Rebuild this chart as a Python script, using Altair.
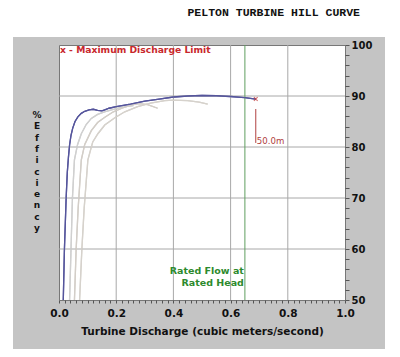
import altair as alt
import pandas as pd

# ---------------- data ----------------
blue_q = [0.015, 0.019, 0.025, 0.029, 0.033, 0.037, 0.042, 0.048, 0.056, 0.066, 0.078, 0.09,
          0.105, 0.12, 0.135, 0.15, 0.16, 0.175, 0.2, 0.25, 0.3, 0.35, 0.4, 0.45, 0.5, 0.55,
          0.6, 0.65, 0.688]
blue_eff = [50, 60, 70, 75, 78, 80.4, 82.3, 83.7, 85.0, 85.9, 86.6, 87.0, 87.3, 87.4, 87.2,
            87.1, 87.3, 87.6, 87.9, 88.4, 89.0, 89.4, 89.8, 90.0, 90.1, 90.05, 89.9, 89.7, 89.4]

grey1_q = [0.037, 0.042, 0.047, 0.054, 0.065, 0.078, 0.095, 0.113, 0.135, 0.159, 0.19, 0.22, 0.26]
grey1_eff = [50, 60, 70, 77.5, 80.5, 82.6, 84.4, 85.6, 86.4, 86.9, 87.4, 87.8, 88.1]

grey2_q = [0.054, 0.06, 0.067, 0.078, 0.09, 0.113, 0.135, 0.159, 0.19, 0.22, 0.25, 0.28, 0.31, 0.345]
grey2_eff = [50, 60, 68, 77.5, 80.5, 83.2, 84.8, 85.8, 86.9, 87.6, 88.2, 88.5, 88.3, 87.6]

grey3_q = [0.072, 0.08, 0.088, 0.101, 0.118, 0.136, 0.16, 0.194, 0.23, 0.275, 0.32, 0.37, 0.4,
           0.45, 0.49, 0.52]
grey3_eff = [50, 60, 68, 77.5, 81.0, 82.6, 84.3, 85.7, 86.9, 87.9, 88.6, 89.1, 89.2, 89.1, 88.8, 88.4]

x_grid = [0.2, 0.4, 0.6, 0.8]
y_grid = [60, 70, 80, 90]
x_ticks = [round(i * 0.02, 2) for i in range(51)]
y_ticks = list(range(50, 101, 2))

rated_flow = 0.65
max_q = 0.688
max_eff = 89.4
head_label = "50.0m"
head_line_top = 87.45
head_line_bottom = 80.8

title_text = "PELTON TURBINE HILL CURVE"
legend_label = "x - Maximum Discharge Limit"
rated_label = "Rated Flow at\nRated Head"
y_title = "% Efficiency"
x_title = "Turbine Discharge (cubic meters/second)"

# ---------------- frames ----------------
rows = []
for name, qs, es in [("grey1", grey1_q, grey1_eff), ("grey2", grey2_q, grey2_eff),
                     ("grey3", grey3_q, grey3_eff), ("blue", blue_q, blue_eff)]:
    for i, (q, e) in enumerate(zip(qs, es)):
        rows.append({"curve": name, "q": q, "eff": e, "i": i})
curves = pd.DataFrame(rows)

W, H = 286, 255
FONT = "DejaVu Sans"
PANEL = "#c4c4c4"

xs = alt.Scale(domain=[0, 1], nice=False, zero=False)
ys = alt.Scale(domain=[50, 100], nice=False, zero=False)

is_major_x = "abs(datum.value*5 - round(datum.value*5)) < 0.001"
is_major_y = "datum.value % 10 == 0"

x_axis = alt.Axis(
    values=x_ticks, format=".1f",
    labelExpr=f"{is_major_x} ? datum.label : ''",
    labelOverlap=False, labelFlush=False,
    labelFont=FONT, labelFontSize=10.5, labelFontWeight="bold", labelColor="#111",
    labelPadding=5,
    tickSize=3, tickColor="#555", tickWidth=1,
    grid=False, domain=False,
    title=x_title,
    titleFont=FONT, titleFontSize=10.5, titleFontWeight="bold", titleColor="#111",
    titlePadding=8,
)
y_axis = alt.Axis(
    orient="right", values=y_ticks,
    labelExpr=f"{is_major_y} ? datum.label : ''",
    labelOverlap=False, labelFlush=False,
    labelFont=FONT, labelFontSize=10, labelFontWeight="bold", labelColor="#111",
    labelPadding=2,
    tickSize=4, tickColor="#555", tickWidth=1,
    grid=False, domain=False, title=None,
)

def X(field):
    return alt.X(field, scale=xs, axis=x_axis)

def Y(field):
    return alt.Y(field, scale=ys, axis=y_axis)

one = pd.DataFrame({"k": [0]})

# white page margins around the grey panel (the chart background is the grey panel)
def strip(x0, x1, y0, y1):
    return alt.Chart(one).mark_rect(color="white").encode(
        x=alt.value(x0), x2=alt.value(x1), y=alt.value(y0), y2=alt.value(y1))

L, T = 59, 45
RM, BM = 400 - L - W, 357 - T - H
strips = [
    strip(-L, W + RM, -T, -8),          # top
    strip(-L, W + RM, H + 49, H + BM),  # bottom
    strip(-L, -46, -8, H + 49),         # left
    strip(W + 40, W + RM, -8, H + 49),  # right
]

lines = alt.Chart(curves).mark_line(strokeWidth=1.3, clip=True).encode(
    x=X("q:Q"),
    y=Y("eff:Q"),
    color=alt.Color("curve:N", legend=None,
                    scale=alt.Scale(domain=["grey1", "grey2", "grey3", "blue"],
                                    range=["#d0d0d0", "#d3cec8", "#d6d2cc", "#55559c"])),
    detail="curve:N",
    order="i:Q",
)

vgrid = alt.Chart(pd.DataFrame({"q": x_grid})).mark_rule(color="#a8a8a8", strokeWidth=1).encode(
    x=X("q:Q"))
hgrid = alt.Chart(pd.DataFrame({"eff": y_grid})).mark_rule(color="#a8a8a8", strokeWidth=1).encode(
    y=Y("eff:Q"))
rated = alt.Chart(pd.DataFrame({"q": [rated_flow]})).mark_rule(color="#5e9e5e", strokeWidth=1).encode(
    x=X("q:Q"))

marker = alt.Chart(pd.DataFrame({"q": [max_q], "eff": [max_eff]})).mark_point(
    shape="M-1,-1L1,1M-1,1L1,-1", size=14, color="#c03030", strokeWidth=1.1, filled=False
).encode(x=X("q:Q"), y=Y("eff:Q"))

head_rule = alt.Chart(pd.DataFrame({"q": [max_q], "eff": [head_line_top], "bot": [head_line_bottom]})
                      ).mark_rule(color="#b04040", strokeWidth=1).encode(
    x=X("q:Q"), y=Y("eff:Q"), y2="bot:Q")

head_text = alt.Chart(pd.DataFrame({"q": [max_q], "eff": [head_line_bottom], "t": [head_label]})
                      ).mark_text(align="left", baseline="bottom", dx=1, dy=3, font=FONT,
                                  fontSize=8.6, color="#b04040").encode(
    x=X("q:Q"), y=Y("eff:Q"), text="t:N")

legend_text = alt.Chart(pd.DataFrame({"q": [0.0], "eff": [99.0]})).mark_text(
    align="left", baseline="middle", dx=1, font=FONT, fontSize=9.2, fontWeight="bold",
    color="#c8282d").encode(
    x=X("q:Q"), y=Y("eff:Q"), text=alt.value(legend_label))

rated_text = alt.Chart(pd.DataFrame({"q": [rated_flow], "eff": [55.7]})).mark_text(
    align="right", baseline="middle", dx=-1, font=FONT, fontSize=9.5, fontWeight="bold",
    color="#2d8a2d", lineBreak="\n", lineHeight=12).encode(
    x=X("q:Q"), y=Y("eff:Q"), text=alt.value(rated_label))

ylabel = alt.Chart(one).mark_text(
    align="center", baseline="top", font=FONT, fontSize=9, fontWeight="bold",
    color="#111", lineBreak="\n", lineHeight=11.3).encode(
    x=alt.value(-22), y=alt.value(66),
    text=alt.value("\n".join(y_title.replace(" ", ""))))

title = alt.Chart(one).mark_text(
    align="right", baseline="middle", font="Liberation Mono", fontSize=11.5,
    fontWeight="bold", color="#111").encode(
    x=alt.value(W + 15), y=alt.value(-32), text=alt.value(title_text))

chart = alt.layer(
    lines, *strips, vgrid, hgrid, rated, lines, marker, head_rule, head_text,
    legend_text, rated_text, ylabel, title
).properties(
    width=W, height=H,
    autosize=alt.AutoSizeParams(type="none"),
    padding={"left": L, "top": T, "right": RM, "bottom": BM},
    background=PANEL,
).configure_view(stroke="#777", strokeWidth=1, fill="white")

chart.save("out.html", embed_options={"renderer": "svg", "actions": False})
